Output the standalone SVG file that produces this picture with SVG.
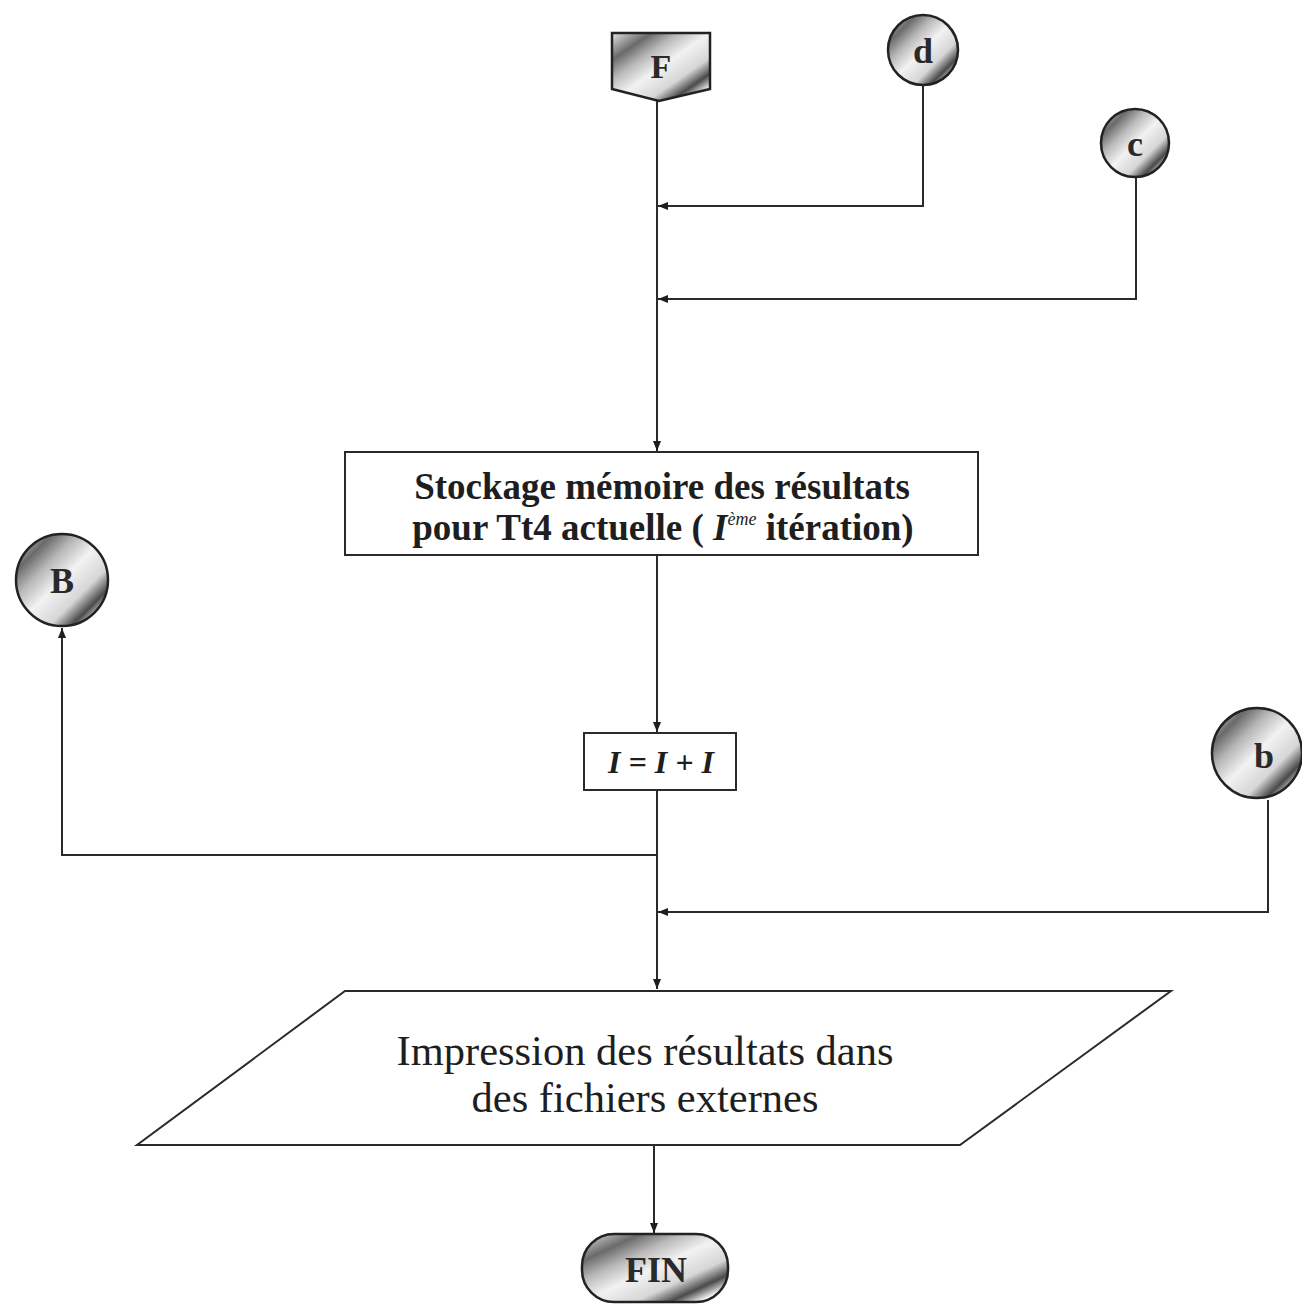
<svg xmlns="http://www.w3.org/2000/svg" width="1302" height="1306" viewBox="0 0 1302 1306">
  <style>
    .line { fill: none; stroke: #2a2a2a; stroke-width: 2; }
    .box { fill: #ffffff; stroke: #2a2a2a; stroke-width: 2; }
    .conn { stroke: #222; stroke-width: 2.5; }
    .lbl { font-family: "Liberation Serif", "Times New Roman", serif; fill: #1e1e1e; }
    .bold { font-weight: bold; }
    .ctext { font-family: "Liberation Serif", "Times New Roman", serif; font-weight: bold; fill: #2a2a2a; text-anchor: middle; }
  </style>
  <defs>
    <marker id="arrow" viewBox="0 0 10 10" refX="10" refY="5" markerWidth="10" markerHeight="10" markerUnits="userSpaceOnUse" orient="auto">
      <path d="M0,1 L10,5 L0,9 Z" fill="#1e1e1e"/>
    </marker>
    <!-- diagonal shaded bands used for connector symbols -->
    <linearGradient id="stripes" x1="0" y1="0" x2="1" y2="1">
      <stop offset="0" stop-color="#e6e6e6"/>
      <stop offset="0.2" stop-color="#6a6a6a"/>
      <stop offset="0.34" stop-color="#b8b8b8"/>
      <stop offset="0.5" stop-color="#f2f2f2"/>
      <stop offset="0.68" stop-color="#d6d6d6"/>
      <stop offset="0.8" stop-color="#4a4a4a"/>
      <stop offset="0.9" stop-color="#f6f6f6"/>
      <stop offset="1" stop-color="#ffffff"/>
    </linearGradient>
  </defs>

  <rect width="1302" height="1306" fill="#ffffff"/>

  <!-- connectors -->
  <g id="connectors">
    <line class="line" x1="657" y1="101" x2="657" y2="451" marker-end="url(#arrow)"/>
    <polyline class="line" points="923,85 923,206 658,206" marker-end="url(#arrow)"/>
    <polyline class="line" points="1136,178 1136,299 658,299" marker-end="url(#arrow)"/>
    <line class="line" x1="657" y1="555" x2="657" y2="732" marker-end="url(#arrow)"/>
    <line class="line" x1="657" y1="790" x2="657" y2="989" marker-end="url(#arrow)"/>
    <polyline class="line" points="657,855 62,855 62,628" marker-end="url(#arrow)"/>
    <polyline class="line" points="1268,800 1268,912 658,912" marker-end="url(#arrow)"/>
    <line class="line" x1="654" y1="1145" x2="654" y2="1233" marker-end="url(#arrow)"/>
  </g>

  <!-- off-page connector F -->
  <g id="node-F">
    <path class="conn" d="M612,33 L710,33 L710,89 L659,101 L612,89 Z" fill="url(#stripes)"/>
    <text class="ctext" x="661" y="78" font-size="34">F</text>
  </g>

  <!-- on-page connectors -->
  <g id="node-d">
    <circle class="conn" cx="923" cy="50" r="35" fill="url(#stripes)"/>
    <text class="ctext" x="923" y="63" font-size="36">d</text>
  </g>
  <g id="node-c">
    <circle class="conn" cx="1135" cy="143" r="34" fill="url(#stripes)"/>
    <text class="ctext" x="1135" y="156" font-size="36">c</text>
  </g>
  <g id="node-B">
    <circle class="conn" cx="62" cy="580" r="46" fill="url(#stripes)"/>
    <text class="ctext" x="62" y="593" font-size="36">B</text>
  </g>
  <g id="node-b">
    <circle class="conn" cx="1257" cy="753" r="45" fill="url(#stripes)"/>
    <text class="ctext" x="1264" y="768" font-size="36">b</text>
  </g>

  <!-- process: storage -->
  <g id="node-stockage">
    <rect class="box" x="345" y="452" width="633" height="103"/>
    <text class="lbl bold" x="662" y="499" font-size="37" text-anchor="middle">Stockage mémoire des résultats</text>
    <text class="lbl bold" x="663" y="540" font-size="37" text-anchor="middle">pour Tt4 actuelle ( <tspan font-style="italic">I</tspan><tspan font-style="italic" font-weight="normal" font-size="18" dy="-15">ème</tspan><tspan dy="15"> itération)</tspan></text>
  </g>

  <!-- process: increment -->
  <g id="node-incr">
    <rect class="box" x="584" y="733" width="152" height="57"/>
    <text class="lbl bold" x="661" y="773" font-size="32" font-style="italic" text-anchor="middle">I = I + I</text>
  </g>

  <!-- output: printing -->
  <g id="node-impression">
    <polygon class="box" points="345,991 1171,991 960,1145 137,1145" fill="#f6f6f6"/>
    <text class="lbl" x="645" y="1065" font-size="42.5" text-anchor="middle">Impression des résultats dans</text>
    <text class="lbl" x="645" y="1112" font-size="42.5" text-anchor="middle">des fichiers externes</text>
  </g>

  <!-- terminal FIN -->
  <g id="node-FIN">
    <rect class="conn" x="582" y="1234" width="146" height="68" rx="32" ry="32" fill="url(#stripes)"/>
    <text class="ctext" x="656" y="1282" font-size="36">FIN</text>
  </g>
</svg>
